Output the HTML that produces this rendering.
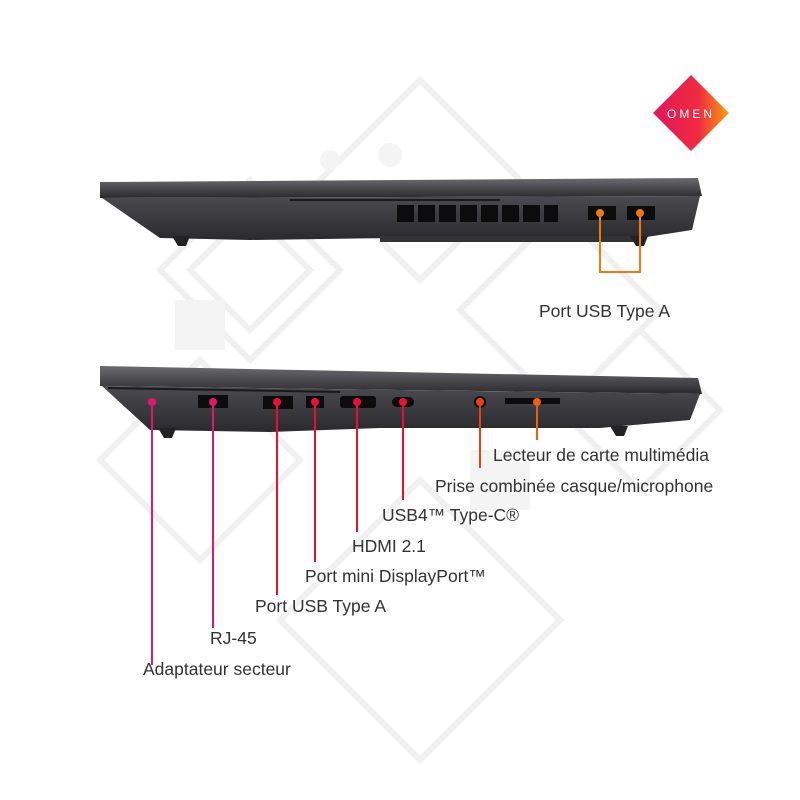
<!DOCTYPE html>
<html><head><meta charset="utf-8"><style>
body{margin:0;width:800px;height:800px;background:#fff;overflow:hidden;position:relative;font-family:"Liberation Sans",sans-serif}
.t{position:absolute;font-size:17.5px;color:#333;white-space:nowrap}
</style></head><body>
<svg width="800" height="800" style="position:absolute;left:0;top:0">
<defs>
<linearGradient id="og" x1="0" y1="0" x2="1" y2="0"><stop offset="0" stop-color="#e0185c"/><stop offset="0.6" stop-color="#f02a40"/><stop offset="1" stop-color="#f6a010"/></linearGradient>
<linearGradient id="lid" x1="0" y1="0" x2="0" y2="1"><stop offset="0" stop-color="#6a6a70"/><stop offset="1" stop-color="#2a2a2e"/></linearGradient>
<linearGradient id="bd" x1="0" y1="0" x2="0" y2="1"><stop offset="0" stop-color="#4a4a50"/><stop offset="1" stop-color="#2a2a2e"/></linearGradient>
</defs>
<g fill="none" stroke="#f0f0f0" stroke-width="6">
<polygon points="250,180 340,270 250,360 160,270"/>
<polygon points="250,210 310,270 250,330 190,270"/>
<polygon points="560,210 660,310 560,410 460,310"/>
<polygon points="420,80 520,180 420,280 320,180"/>
<polygon points="420,480 560,620 420,760 280,620"/>
<polygon points="200,360 300,460 200,560 100,460"/>
<polygon points="640,330 720,410 640,490 560,410"/>
</g>
<g fill="#f4f4f4"><rect x="175" y="300" width="50" height="50"/><rect x="470" y="450" width="60" height="60"/><circle cx="390" cy="155" r="12"/><circle cx="330" cy="160" r="10"/></g>
<polygon points="691,75 729,113 691,151 653,113" fill="url(#og)"/>
<text x="691" y="118" font-size="12" fill="#fff" text-anchor="middle" letter-spacing="3" font-family="Liberation Sans">OMEN</text>
<polygon points="100,182 698,178 702,196 100,198" fill="url(#lid)"/>
<polygon points="102,198 700,196 692,230 640,238 390,238 250,240 160,238" fill="url(#bd)"/>
<rect x="380" y="236" width="260" height="6" fill="#333"/>
<polygon points="172,236 190,236 186,246 178,246" fill="#222"/>
<polygon points="630,236 648,236 644,246 636,246" fill="#222"/>
<line x1="290" y1="200" x2="500" y2="200" stroke="#1a1a1a" stroke-width="2"/>
<g fill="#0c0c0c"><rect x="397" y="205" width="17" height="17"/><rect x="418" y="205" width="17" height="17"/><rect x="439" y="205" width="17" height="17"/><rect x="460" y="205" width="17" height="17"/><rect x="481" y="205" width="17" height="17"/><rect x="502" y="205" width="17" height="17"/><rect x="523" y="205" width="17" height="17"/><rect x="544" y="205" width="14" height="17"/></g>
<rect x="588" y="206" width="28" height="14" fill="#0c0c0c"/><rect x="627" y="206" width="28" height="14" fill="#0c0c0c"/>
<g stroke="#f07a10" stroke-width="2" fill="none"><polyline points="600,213 600,272 640,272 640,213"/></g>
<circle cx="600" cy="213" r="4" fill="#f07a10"/><circle cx="640" cy="213" r="4" fill="#f07a10"/>
<polygon points="100,366 698,378 702,394 100,386" fill="url(#lid)"/>
<polygon points="102,386 700,394 690,420 600,428 380,428 270,432 150,430" fill="url(#bd)"/>
<polygon points="158,428 176,428 172,438 164,438" fill="#222"/>
<polygon points="610,426 628,426 624,436 616,436" fill="#222"/>
<line x1="108" y1="388" x2="340" y2="392" stroke="#1a1a1a" stroke-width="2"/>
<rect x="198" y="395" width="30" height="13" fill="#0c0c0c"/>
<rect x="263" y="396" width="30" height="13" fill="#0c0c0c"/>
<rect x="306" y="396" width="18" height="12" fill="#0c0c0c"/>
<rect x="340" y="396" width="36" height="12" rx="3" fill="#0c0c0c"/>
<rect x="392" y="397" width="22" height="10" rx="5" fill="#0c0c0c"/>
<circle cx="480" cy="402" r="6" fill="#0c0c0c"/>
<rect x="505" y="398" width="55" height="6" fill="#0c0c0c"/>
<g stroke-width="2" fill="none">
<line x1="152" y1="402" x2="152" y2="665" stroke="#e0186c"/>
<line x1="213" y1="402" x2="213" y2="628" stroke="#e0186c"/>
<line x1="277" y1="402" x2="277" y2="595" stroke="#e8103a"/>
<line x1="315" y1="402" x2="315" y2="562" stroke="#e8103a"/>
<line x1="357" y1="402" x2="357" y2="532" stroke="#e8103a"/>
<line x1="403" y1="402" x2="403" y2="500" stroke="#e8103a"/>
<line x1="480" y1="402" x2="480" y2="468" stroke="#e8401a"/>
<line x1="537" y1="402" x2="537" y2="440" stroke="#ee6010"/>
</g>
<circle cx="152" cy="402" r="4" fill="#e0186c"/><circle cx="213" cy="402" r="4" fill="#e0186c"/>
<g fill="#e8103a"><circle cx="277" cy="402" r="4"/><circle cx="315" cy="402" r="4"/><circle cx="357" cy="402" r="4"/><circle cx="403" cy="402" r="4"/></g>
<circle cx="480" cy="402" r="4" fill="#e8401a"/><circle cx="537" cy="402" r="4" fill="#ee6010"/>
</svg>
<div class="t" style="left:539px;top:301px">Port USB Type A</div>
<div class="t" style="left:493px;top:445px">Lecteur de carte multimédia</div>
<div class="t" style="left:435px;top:476px">Prise combinée casque/microphone</div>
<div class="t" style="left:382px;top:505px">USB4™ Type-C®</div>
<div class="t" style="left:352px;top:536px">HDMI 2.1</div>
<div class="t" style="left:305px;top:566px">Port mini DisplayPort™</div>
<div class="t" style="left:255px;top:596px">Port USB Type A</div>
<div class="t" style="left:210px;top:628px">RJ-45</div>
<div class="t" style="left:143px;top:659px">Adaptateur secteur</div>
</body></html>
